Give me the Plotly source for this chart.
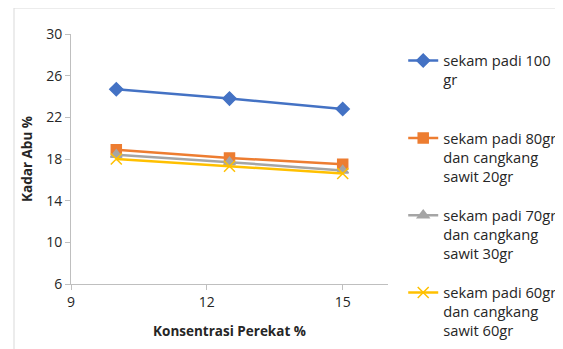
import plotly.graph_objects as go

konsentrasi = [10, 12.5, 15]
series_names = [
    "sekam padi 100<br>gr<br> ",
    "sekam padi 80gr<br>dan cangkang<br>sawit 20gr",
    "sekam padi 70gr<br>dan cangkang<br>sawit 30gr",
    "sekam padi 60gr<br>dan cangkang<br>sawit 60gr",
]
sekam_100 = [24.7, 23.8, 22.8]
sekam_80 = [18.9, 18.1, 17.5]
sekam_70 = [18.4, 17.7, 16.9]
sekam_60 = [18.0, 17.3, 16.6]
x_ticks = [9, 12, 15]

values = [sekam_100, sekam_80, sekam_70, sekam_60]
colors = ["#4472C4", "#ED7D31", "#A5A5A5", "#FFC000"]
symbols = ["diamond", "square", "triangle-up", "x-thin-open"]
sizes = [10, 10, 10, 11]

font = "Open Sans, Liberation Sans, sans-serif"

# page body adds an 8px offset; figure is sized to fill the rest
W, H = 555, 341
L, T = 63, 26
PW, PH = 317, 250

fig = go.Figure()
for i, (name, vals) in enumerate(zip(series_names, values)):
    fig.add_trace(go.Scatter(
        x=konsentrasi, y=vals, name=name, mode="lines+markers",
        legendgroup=f"g{i}",
        line=dict(color=colors[i], width=2.5),
        marker=dict(symbol=symbols[i], size=sizes[i], color=colors[i],
                    line=dict(color=colors[i], width=1.5)),
    ))

fig.update_layout(
    width=W, height=H,
    margin=dict(l=L, r=W - L - PW, t=T, b=H - T - PH, pad=0, autoexpand=False),
    plot_bgcolor="white", paper_bgcolor="white",
    font=dict(family=font, size=14, color="#262626"),
    showlegend=True,
    legend=dict(x=1.048, y=0.958, xanchor="left", yanchor="top",
                valign="top", tracegroupgap=17, maxheight=400,
                font=dict(family=font, size=14.7, color="#262626"),
                itemwidth=30),
    xaxis=dict(range=[9, 16], tickvals=x_ticks, showgrid=False, zeroline=False,
               showline=True, linecolor="#BFBFBF", linewidth=1,
               ticks="outside", ticklen=5, tickcolor="#BFBFBF",
               tickfont=dict(size=14, color="#262626"), automargin=False,
               title=dict(text="<b>Konsentrasi Perekat %</b>", standoff=16,
                          font=dict(size=13.5, color="#262626"))),
    yaxis=dict(range=[6, 30], dtick=4, tick0=6, showgrid=False, zeroline=False,
               showline=True, linecolor="#BFBFBF", linewidth=1,
               ticks="outside", ticklen=5, tickcolor="#BFBFBF",
               tickfont=dict(size=14, color="#262626"), automargin=False,
               title=dict(text="<b>Kadar Abu %</b>", standoff=10,
                          font=dict(size=13.5, color="#262626"))),
    shapes=[dict(type="rect", xref="paper", yref="paper",
                 x0=(6 - L) / PW, x1=(700 - L) / PW,
                 y0=(PH + T - 450) / PH, y1=(PH + T - 0) / PH,
                 line=dict(color="#D9D9D9", width=1), layer="below")],
)

fig.write_html("out.html")
